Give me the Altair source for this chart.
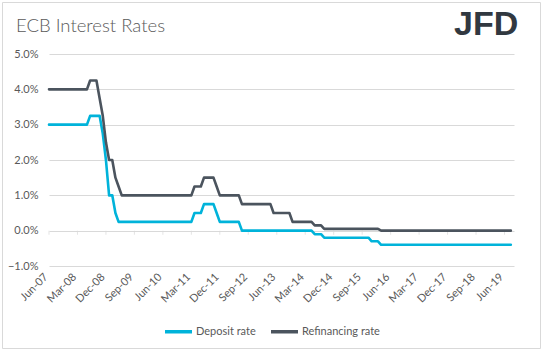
import altair as alt
import pandas as pd

# Monthly (end-of-month) ECB rates, Jun-07 .. Aug-19
months = pd.date_range("2007-06-01", "2019-08-01", freq="MS").strftime("%b-%y").tolist()

deposit_rate = [
    # 2007 Jun-Dec
    3.00, 3.00, 3.00, 3.00, 3.00, 3.00, 3.00,
    # 2008
    3.00, 3.00, 3.00, 3.00, 3.00, 3.00, 3.25, 3.25, 3.25, 3.25, 2.75, 2.00,
    # 2009
    1.00, 1.00, 0.50, 0.25, 0.25, 0.25, 0.25, 0.25, 0.25, 0.25, 0.25, 0.25,
    # 2010
    0.25, 0.25, 0.25, 0.25, 0.25, 0.25, 0.25, 0.25, 0.25, 0.25, 0.25, 0.25,
    # 2011
    0.25, 0.25, 0.25, 0.50, 0.50, 0.50, 0.75, 0.75, 0.75, 0.75, 0.50, 0.25,
    # 2012
    0.25, 0.25, 0.25, 0.25, 0.25, 0.25, 0.00, 0.00, 0.00, 0.00, 0.00, 0.00,
    # 2013
    0.00, 0.00, 0.00, 0.00, 0.00, 0.00, 0.00, 0.00, 0.00, 0.00, 0.00, 0.00,
    # 2014
    0.00, 0.00, 0.00, 0.00, 0.00, -0.10, -0.10, -0.10, -0.20, -0.20, -0.20, -0.20,
    # 2015
    -0.20, -0.20, -0.20, -0.20, -0.20, -0.20, -0.20, -0.20, -0.20, -0.20, -0.20, -0.30,
    # 2016
    -0.30, -0.30, -0.40, -0.40, -0.40, -0.40, -0.40, -0.40, -0.40, -0.40, -0.40, -0.40,
    # 2017
    -0.40, -0.40, -0.40, -0.40, -0.40, -0.40, -0.40, -0.40, -0.40, -0.40, -0.40, -0.40,
    # 2018
    -0.40, -0.40, -0.40, -0.40, -0.40, -0.40, -0.40, -0.40, -0.40, -0.40, -0.40, -0.40,
    # 2019 Jan-Aug
    -0.40, -0.40, -0.40, -0.40, -0.40, -0.40, -0.40, -0.40,
]

refinancing_rate = [
    # 2007 Jun-Dec
    4.00, 4.00, 4.00, 4.00, 4.00, 4.00, 4.00,
    # 2008
    4.00, 4.00, 4.00, 4.00, 4.00, 4.00, 4.25, 4.25, 4.25, 3.75, 3.25, 2.50,
    # 2009
    2.00, 2.00, 1.50, 1.25, 1.00, 1.00, 1.00, 1.00, 1.00, 1.00, 1.00, 1.00,
    # 2010
    1.00, 1.00, 1.00, 1.00, 1.00, 1.00, 1.00, 1.00, 1.00, 1.00, 1.00, 1.00,
    # 2011
    1.00, 1.00, 1.00, 1.25, 1.25, 1.25, 1.50, 1.50, 1.50, 1.50, 1.25, 1.00,
    # 2012
    1.00, 1.00, 1.00, 1.00, 1.00, 1.00, 0.75, 0.75, 0.75, 0.75, 0.75, 0.75,
    # 2013
    0.75, 0.75, 0.75, 0.75, 0.50, 0.50, 0.50, 0.50, 0.50, 0.50, 0.25, 0.25,
    # 2014
    0.25, 0.25, 0.25, 0.25, 0.25, 0.15, 0.15, 0.15, 0.05, 0.05, 0.05, 0.05,
    # 2015
    0.05, 0.05, 0.05, 0.05, 0.05, 0.05, 0.05, 0.05, 0.05, 0.05, 0.05, 0.05,
    # 2016
    0.05, 0.05, 0.00, 0.00, 0.00, 0.00, 0.00, 0.00, 0.00, 0.00, 0.00, 0.00,
    # 2017
    0.00, 0.00, 0.00, 0.00, 0.00, 0.00, 0.00, 0.00, 0.00, 0.00, 0.00, 0.00,
    # 2018
    0.00, 0.00, 0.00, 0.00, 0.00, 0.00, 0.00, 0.00, 0.00, 0.00, 0.00, 0.00,
    # 2019 Jan-Aug
    0.00, 0.00, 0.00, 0.00, 0.00, 0.00, 0.00, 0.00,
]

tick_labels = ["Jun-07", "Mar-08", "Dec-08", "Sep-09", "Jun-10", "Mar-11", "Dec-11",
               "Sep-12", "Jun-13", "Mar-14", "Dec-14", "Sep-15", "Jun-16", "Mar-17",
               "Dec-17", "Sep-18", "Jun-19"]
y_ticks = [-1, 0, 1, 2, 3, 4, 5]

series_names = ["Deposit rate", "Refinancing rate"]
series_colors = ["#00b3da", "#4b545e"]

rows = []
for name, vals in zip(series_names, [deposit_rate, refinancing_rate]):
    for i, (m, v) in enumerate(zip(months, vals)):
        rows.append({"idx": i, "month": m, "series": name, "value": v})
df = pd.DataFrame(rows)

tick_pos = [months.index(t) for t in tick_labels]
ticks_df = pd.DataFrame({"idx": tick_pos, "value": [0] * len(tick_pos)})

label_arr = "[" + ",".join("'%s'" % t for t in tick_labels) + "]"

FONT = "Lato"
GRAY = "#595959"

x_scale = alt.Scale(domain=[0, 147], nice=False, zero=False)
y_scale = alt.Scale(domain=[-1, 5], nice=False)

x_axis = alt.Axis(values=tick_pos,
                  labelExpr=label_arr + "[indexof(" + str(tick_pos) + ", datum.value)]",
                  grid=False, domain=False, ticks=False, labelAngle=-45,
                  labelAlign="right", labelBaseline="middle", labelPadding=9,
                  labelOffset=-3, labelOverlap=False, labelFlush=False,
                  labelBound=False, title=None, labelFont=FONT, labelFontSize=11,
                  labelColor=GRAY)
y_axis = alt.Axis(values=y_ticks, labelExpr="format(datum.value, '.1f') + '%'",
                  grid=True, gridColor="#d9d9d9", gridWidth=1, domain=False,
                  ticks=False, labelPadding=11, labelOverlap=False,
                  labelFlush=False, labelBound=False, title=None,
                  labelFont=FONT, labelFontSize=11, labelColor=GRAY)

lines = alt.Chart(df).mark_line(strokeWidth=2.6, strokeJoin="round", strokeCap="round").encode(
    x=alt.X("idx:Q", scale=x_scale, axis=x_axis),
    y=alt.Y("value:Q", scale=y_scale, axis=y_axis),
    color=alt.Color("series:N", sort=series_names,
                    scale=alt.Scale(domain=series_names, range=series_colors),
                    legend=alt.Legend(title=None, orient="none", direction="horizontal",
                                      legendX=114, legendY=262, symbolType="stroke",
                                      symbolSize=729, symbolStrokeWidth=3.5,
                                      labelFont=FONT, labelFontSize=11, labelColor=GRAY,
                                      labelOffset=2, columnPadding=8, padding=0)),
    detail="series:N",
)

axis_ticks = alt.Chart(ticks_df).mark_tick(orient="vertical", size=4, yOffset=2,
                                           color="#d9d9d9", thickness=1).encode(
    x=alt.X("idx:Q", scale=x_scale, axis=x_axis),
    y=alt.Y("value:Q", scale=y_scale, axis=y_axis),
)

title = alt.Chart(pd.DataFrame({"t": ["ECB Interest Rates"]})).mark_text(
    align="left", baseline="alphabetic", font=FONT, fontSize=18.5, fontWeight=300,
    color=GRAY).encode(text="t:N", x=alt.value(-33), y=alt.value(-22))

logo = alt.Chart(pd.DataFrame({"t": ["JFD"]})).mark_text(
    align="left", baseline="alphabetic", font="Liberation Sans", fontSize=34,
    fontWeight="bold", color="#313840").encode(text="t:N", x=alt.value(405), y=alt.value(-19))

border = alt.Chart(pd.DataFrame({"a": [0]})).mark_rect(
    fill="transparent", stroke="#d9d9d9", strokeWidth=1).encode(
    x=alt.value(-46.5), x2=alt.value(491.5), y=alt.value(-51.5), y2=alt.value(294.5))

chart = alt.layer(border, axis_ticks, lines, title, logo).properties(
    width=465, height=212,
    autosize=alt.AutoSizeParams(type="none"),
    padding={"left": 49, "top": 54, "right": 29, "bottom": 86},
).configure(background="white").configure_view(stroke=None)

chart.save("out.html", embed_options={"renderer": "svg", "actions": False})
